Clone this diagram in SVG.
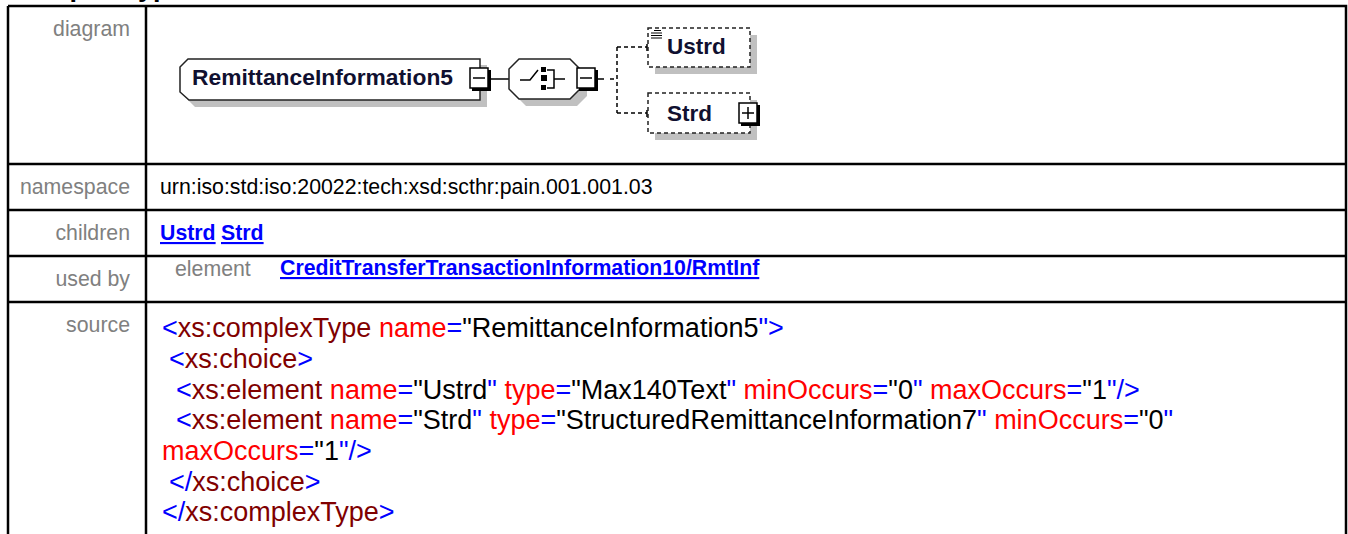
<svg xmlns="http://www.w3.org/2000/svg" width="1348" height="534" viewBox="0 0 1348 534">
<style>
.lbl{font-family:"Liberation Sans",Arial,sans-serif;font-size:21.3px;fill:#808080;text-anchor:end}
.val{font-family:"Liberation Sans",Arial,sans-serif;font-size:21.3px;fill:#000}
.lnk{font-family:"Liberation Sans",Arial,sans-serif;font-size:21.3px;font-weight:bold;fill:#0000ff;text-decoration:underline}
.src{font-family:"Liberation Sans",Arial,sans-serif;font-size:27px;fill:#000}
.b{fill:#0000ff}.e{fill:#800000}.a{fill:#ff0000}
.grid{stroke:#000;stroke-width:2.5;fill:none}
.node{fill:#fff;stroke:#222;stroke-width:1.5}
.shadow{fill:#c0c0c0;stroke:none}
.dnode{fill:#fff;stroke:#222;stroke-width:1.5;stroke-dasharray:4 3}
.ntext{font-family:"Liberation Sans",Arial,sans-serif;font-size:22.5px;font-weight:bold;fill:#101030}
.btn{fill:#fff;stroke:#000;stroke-width:1.5}
.bsh{stroke:#000;stroke-width:3;fill:none}
.ln{stroke:#000;stroke-width:1.5;fill:none}
.dl{stroke:#000;stroke-width:1.5;fill:none;stroke-dasharray:4 3}
</style>
<rect x="0" y="0" width="1348" height="534" fill="#fff"/>
<text x="14" y="-4.5" font-family="Liberation Sans,Arial,sans-serif" font-size="27" font-weight="bold" fill="#000">complexType RemittanceInformation5</text>
<g id="table">
<path class="grid" d="M8,6 H1346 V540 M8,6 V540 M146,6 V540 M8,164 H1346 M8,210 H1346 M8,256 H1346 M8,302 H1346"/>
</g>
<g id="labels">
<text class="lbl" x="130" y="36">diagram</text>
<text class="lbl" x="130" y="194">namespace</text>
<text class="lbl" x="130" y="240">children</text>
<text class="lbl" x="130" y="286">used by</text>
<text class="lbl" x="130" y="332">source</text>
</g>
<g id="values">
<text class="val" x="160" y="194">urn:iso:std:iso:20022:tech:xsd:scthr:pain.001.001.03</text>
<text class="lnk" x="160" y="240">Ustrd</text>
<text class="lnk" x="221" y="240">Strd</text>
<text class="lbl" x="175" y="276" style="text-anchor:start">element</text>
<text class="lnk" x="280" y="275">CreditTransferTransactionInformation10/RmtInf</text>
</g>
<g id="source">
<text class="src" x="162" y="337"><tspan class="b">&lt;</tspan><tspan class="e">xs:complexType</tspan> <tspan class="a">name</tspan><tspan class="b">=</tspan>"RemittanceInformation5<tspan class="b">"&gt;</tspan></text>
<text class="src" x="169" y="368"><tspan class="b">&lt;</tspan><tspan class="e">xs:choice</tspan><tspan class="b">&gt;</tspan></text>
<text class="src" x="176" y="398.5"><tspan class="b">&lt;</tspan><tspan class="e">xs:element</tspan> <tspan class="a">name</tspan><tspan class="b">=</tspan>"Ustrd<tspan class="b">"</tspan> <tspan class="a">type</tspan><tspan class="b">=</tspan>"Max140Text<tspan class="b">"</tspan> <tspan class="a">minOccurs</tspan><tspan class="b">=</tspan>"0<tspan class="b">"</tspan> <tspan class="a">maxOccurs</tspan><tspan class="b">=</tspan>"1<tspan class="b">"/&gt;</tspan></text>
<text class="src" x="176" y="429"><tspan class="b">&lt;</tspan><tspan class="e">xs:element</tspan> <tspan class="a">name</tspan><tspan class="b">=</tspan>"Strd<tspan class="b">"</tspan> <tspan class="a">type</tspan><tspan class="b">=</tspan>"StructuredRemittanceInformation7<tspan class="b">"</tspan> <tspan class="a">minOccurs</tspan><tspan class="b">=</tspan>"0<tspan class="b">"</tspan></text>
<text class="src" x="162" y="460"><tspan class="a">maxOccurs</tspan><tspan class="b">=</tspan>"1<tspan class="b">"/&gt;</tspan></text>
<text class="src" x="169" y="490.5"><tspan class="b">&lt;/</tspan><tspan class="e">xs:choice</tspan><tspan class="b">&gt;</tspan></text>
<text class="src" x="162" y="521"><tspan class="b">&lt;/</tspan><tspan class="e">xs:complexType</tspan><tspan class="b">&gt;</tspan></text>
</g>
<g id="connectors">
<path class="ln" d="M490,79 H509"/>
<path class="ln" d="M597,79 H604"/>
<path class="dl" d="M610,79 H617 M617,47 V113 M617,47 H647 M617,113 H647"/>
<path class="ln" d="M647,44 V51 M647,110 V117"/>
</g>
<g id="node-RemittanceInformation5">
<polygon class="shadow" points="195,65 487,65 487,107 195,107 187,99 187,73"/>
<polygon class="node" points="188,59 480,59 480,100 189,100 180,92 180,67"/>
<text class="ntext" x="192" y="85" textLength="261" lengthAdjust="spacingAndGlyphs">RemittanceInformation5</text>
<rect class="btn" x="470" y="68" width="18" height="20"/>
<path class="bsh" d="M489.5,70 V89.5 H472"/>
<path class="ln" d="M473,78 H485"/>
</g>
<g id="node-choice">
<polygon class="shadow" points="526,66 577,66 587,76 587,96 577,106 526,106 516,96 516,76"/>
<polygon class="node" points="519,59 570,59 580,69 580,89 570,99 519,99 509,89 509,69"/>
<path class="ln" d="M520,80 H530 L538,70"/>
<rect x="541" y="67" width="5" height="5" fill="#000"/>
<rect x="541" y="75" width="6" height="6" fill="#000"/>
<rect x="541" y="85" width="5" height="5" fill="#000"/>
<path class="ln" d="M547,70 H554 V88 H547 M554,79 H565"/>
<rect class="btn" x="577" y="68" width="18" height="20"/>
<path class="bsh" d="M596.5,70 V89.5 H579"/>
<path class="ln" d="M580,78 H592"/>
</g>
<g id="node-Ustrd">
<rect class="shadow" x="655" y="35" width="102" height="39"/>
<rect class="dnode" x="648" y="28" width="102" height="39"/>
<path d="M654,30.5 H661 M651,33 H662 M651,35.5 H662 M651,38 H662" stroke="#000" stroke-width="1" fill="none"/>
<text class="ntext" x="667" y="54">Ustrd</text>
</g>
<g id="node-Strd">
<rect class="shadow" x="655" y="100" width="102" height="40"/>
<rect class="dnode" x="648" y="93" width="102" height="40"/>
<text class="ntext" x="667" y="121">Strd</text>
<rect class="btn" x="739" y="103" width="18" height="20"/>
<path class="bsh" d="M758.5,105 V124.5 H741"/>
<path class="ln" d="M742,113 H754 M748,107 V119"/>
</g>
</svg>
